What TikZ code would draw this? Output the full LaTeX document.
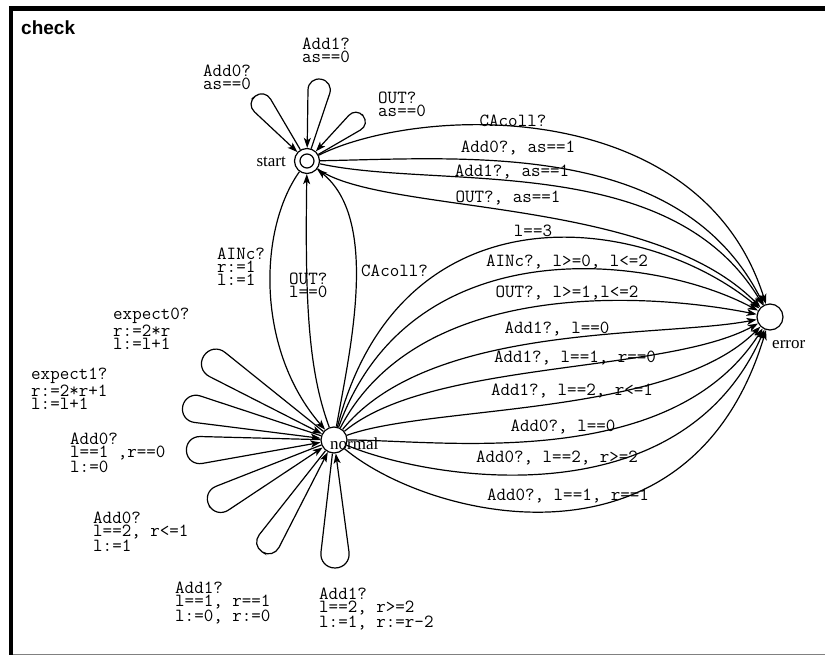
\documentclass[tikz,border=0pt]{standalone}
\usepackage{fontspec}
\setmainfont{Liberation Serif}
\newfontfamily\chkfont{Liberation Sans}
\usetikzlibrary{arrows.meta,calc}
\tikzset{
  lbl/.style={font=\fontsize{18.5}{13}\selectfont\ttfamily, inner sep=0pt, anchor=north west, align=left},
  elbl/.style={font=\fontsize{18.5}{13}\selectfont\ttfamily, inner sep=0pt},
  loc/.style={circle, draw, line width=1.2pt, minimum size=26pt, inner sep=0pt, fill=white},
  lname/.style={font=\fontsize{17}{20}\selectfont, inner sep=0pt},
  edge/.style={line width=1.2pt, -{Stealth[length=10pt,width=7pt,inset=2.5pt]}},
}
\newcommand\petal[4]{%
  \pgfmathsetmacro\pR{veclen(#3,(#4)/2)}%
  \pgfmathsetmacro\pD{atan((#4)/(2*(#3)))}%
  \pgfmathsetmacro\pA{-(#2)+\pD}%
  \pgfmathsetmacro\pB{-(#2)-\pD}%
  \pgfmathsetmacro\pW{(#4)/2}%
  \draw[edge, rounded corners=\pW pt] (#1) -- ($(#1)+(\pA:\pR)$) -- ($(#1)+(\pB:\pR)$) -- (#1);
}
\begin{document}
\begin{tikzpicture}[x=1pt,y=-1pt]
\useasboundingbox (0,0) rectangle (825,656);
\fill[white] (0,0) rectangle (825,656);
% frame
\draw[gray, line width=1pt] (9,654.5) -- (825,654.5);
\draw[line width=4.5pt] (11,6.5) -- (11,655);
\draw[line width=4.5pt] (8.75,8.5) -- (825,8.5);
\node[font={\fontsize{19}{22}\selectfont\chkfont\bfseries}, anchor=base west, inner sep=0pt] (title) at (21,34) {check};

% locations
\node[loc, minimum size=25pt] (start) at (307,161) {};
\draw[line width=1.2pt] (start.center) circle[radius=7];
\node[loc] (normal) at (334,440) {};
\node[loc] (error) at (770,317) {};

% self loops at start
\petal{start}{128.7}{83}{24}
\petal{start}{80.3}{83}{26}
\petal{start}{38.8}{72}{22}
\node[lbl] (l1) at (203,65) {Add0?\\as==0};
\node[lbl] (l2) at (302,38) {Add1?\\as==0};
\node[lbl] (l3) at (378,92) {OUT?\\as==0};

% self loops at normal
\petal{normal}{147.1}{155}{32}
\petal{normal}{167.3}{155}{30}
\petal{normal}{184.3}{148}{30}
\petal{normal}{207.5}{141}{30}
\petal{normal}{237.3}{133}{26}
\petal{normal}{270.5}{128}{32}
\node[lbl] (l4) at (113,308) {expect0?\\r:=2*r\\l:=l+1};
\node[lbl] (l5) at (31,368) {expect1?\\r:=2*r+1\\l:=l+1};
\node[lbl] (l6) at (70,433) {Add0?\\l==1 ,r==0\\l:=0};
\node[lbl] (l7) at (93,512) {Add0?\\l==2, r<=1\\l:=1};
\node[lbl] (l8) at (175,582) {Add1?\\l==1, r==1\\l:=0, r:=0};
\node[lbl] (l9) at (319,588) {Add1?\\l==2, r>=2\\l:=1, r:=r-2};

% start <-> normal
\draw[edge] (start) .. controls (258,230) and (256,350) .. (normal);
\draw[edge] (normal) .. controls (308,370) and (305,300) .. (start);
\draw[edge] (normal) .. controls (350,350) and (380,220) .. (start);
\node[lbl] (l10) at (217,248) {AINc?\\r:=1\\l:=1};
\node[lbl] (l11) at (289,273) {OUT?\\l==0};
\node[lbl] (l12) at (361,265) {CAcoll?};

% start -> error
\draw[edge] (start) .. controls (420,105) and (700,95) .. (error);
\draw[edge] (start) .. controls (470,158) and (680,140) .. (error);
\draw[edge] (start) .. controls (440,190) and (670,150) .. (error);
\draw[edge] (start) .. controls (380,215) and (650,195) .. (error);
\node[elbl] (e1) at (513,121) {CAcoll?};
\node[elbl] (e2) at (518,148) {Add0?, as==1};
\node[elbl] (e3) at (512,172) {Add1?, as==1};
\node[elbl] (e4) at (508,198) {OUT?, as==1};

% normal -> error
\draw[edge] (normal) .. controls (400,185) and (640,211) .. (error);
\draw[edge] (normal) .. controls (410,228) and (650,253) .. (error);
\draw[edge] (normal) .. controls (420,275) and (655,294) .. (error);
\draw[edge] (normal) .. controls (430,322) and (660,338) .. (error);
\draw[edge] (normal) .. controls (430,360) and (665,374) .. (error);
\draw[edge] (normal) .. controls (430,405) and (670,417) .. (error);
\draw[edge] (normal) .. controls (440,440) and (670,473) .. (error);
\draw[edge] (normal) .. controls (430,480) and (680,521) .. (error);
\draw[edge] (normal) .. controls (430,520) and (690,582) .. (error);
\node[elbl] (e5) at (533,231) {l==3};
\node[elbl] (e6) at (567,262) {AINc?, l>=0, l<=2};
\node[elbl] (e7) at (567,293) {OUT?, l>=1,l<=2};
\node[elbl] (e8) at (557,329) {Add1?, l==0};
\node[elbl] (e9) at (575,358) {Add1?, l==1, r==0};
\node[elbl] (e10) at (572,391) {Add1?, l==2, r<=1};
\node[elbl] (e11) at (563,427) {Add0?, l==0};
\node[elbl] (e12) at (557,458) {Add0?, l==2, r>=2};
\node[elbl] (e13) at (568,496) {Add0?, l==1, r==1};

% location names
\node[lname, anchor=base east] (startname) at (286,166) {start};
\node[lname, anchor=base west] (normalname) at (330,449) {normal};
\node[lname, anchor=base west] (errorname) at (772,348) {error};
\end{tikzpicture}
\end{document}
